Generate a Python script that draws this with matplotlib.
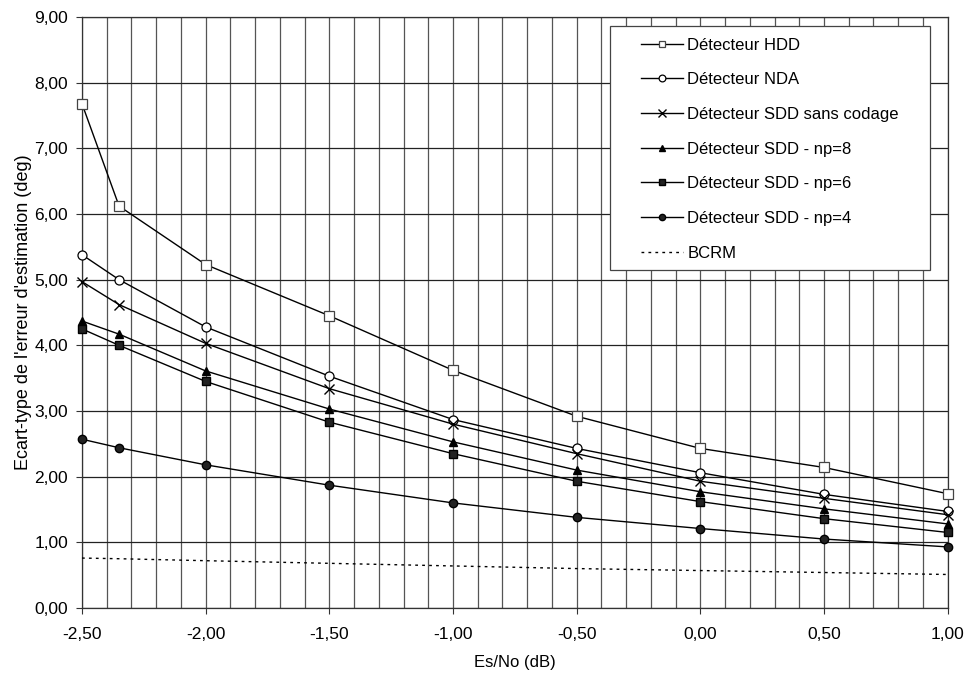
import matplotlib
matplotlib.use("Agg")
import matplotlib.pyplot as plt
from matplotlib.ticker import MultipleLocator, FuncFormatter
from matplotlib.patches import Rectangle

plt.rcParams['font.family'] = ['Liberation Sans', 'DejaVu Sans']

x = [-2.5, -2.35, -2.0, -1.5, -1.0, -0.5, 0.0, 0.5, 1.0]
hdd = [7.68, 6.12, 5.23, 4.45, 3.62, 2.92, 2.43, 2.14, 1.74]
nda = [5.38, 5.00, 4.28, 3.53, 2.87, 2.43, 2.06, 1.73, 1.47]
sdd_nc = [4.97, 4.62, 4.03, 3.34, 2.80, 2.35, 1.93, 1.67, 1.42]
sdd8 = [4.37, 4.17, 3.61, 3.03, 2.53, 2.10, 1.77, 1.51, 1.28]
sdd6 = [4.25, 4.00, 3.45, 2.83, 2.35, 1.93, 1.62, 1.36, 1.15]
sdd4 = [2.57, 2.44, 2.18, 1.87, 1.60, 1.38, 1.21, 1.05, 0.93]
bcrm = [0.76, 0.75, 0.72, 0.68, 0.64, 0.60, 0.57, 0.54, 0.51]

labels = ["Détecteur HDD", "Détecteur NDA", "Détecteur SDD sans codage",
          "Détecteur SDD - np=8", "Détecteur SDD - np=6", "Détecteur SDD - np=4", "BCRM"]

fig = plt.figure(figsize=(9.69, 6.75), dpi=100)
ax = fig.add_axes([0.0846, 0.0993, 0.8934, 0.8755])

lw = 1.0
kw = dict(clip_on=False, zorder=3)
ax.plot(x, hdd, color='black', lw=lw, marker='s', ms=6.5, mfc='white', mec='#444', mew=0.9, label=labels[0], **kw)
ax.plot(x, nda, color='black', lw=lw, marker='o', ms=6.5, mfc='white', mec='black', mew=0.9, label=labels[1], **kw)
ax.plot(x, sdd_nc, color='black', lw=lw, marker='x', ms=7, mec='black', mew=1.0, label=labels[2], **kw)
ax.plot(x, sdd8, color='black', lw=lw, marker='^', ms=6, mfc='black', mec='black', label=labels[3], **kw)
ax.plot(x, sdd6, color='black', lw=lw, marker='s', ms=5.5, mfc='#222', mec='black', label=labels[4], **kw)
ax.plot(x, sdd4, color='black', lw=lw, marker='o', ms=6, mfc='#222', mec='black', label=labels[5], **kw)
ax.plot(x, bcrm, color='black', lw=1.0, ls=(0, (2, 3)), label=labels[6], **kw)

ax.set_xlim(-2.5, 1.0)
ax.set_ylim(0, 9)
ax.xaxis.set_major_locator(MultipleLocator(0.5))
ax.xaxis.set_minor_locator(MultipleLocator(0.1))
ax.yaxis.set_major_locator(MultipleLocator(1.0))
fmt = FuncFormatter(lambda v, p: f"{v:.2f}".replace('.', ',').replace('-0,00', '0,00'))
ax.xaxis.set_major_formatter(fmt)
ax.yaxis.set_major_formatter(fmt)

ax.grid(True, which='major', axis='y', color='#222', lw=0.9)
ax.grid(True, which='both', axis='x', color='#555', lw=0.9)
ax.set_axisbelow(True)
ax.tick_params(axis='both', which='major', direction='out', length=4, labelsize=12.5, color='#333')
ax.tick_params(axis='x', which='minor', length=0)
ax.tick_params(axis='x', pad=10)
ax.tick_params(axis='y', pad=6)
for s in ax.spines.values():
    s.set_color('#333')
    s.set_linewidth(0.9)

ax.set_xlabel("Es/No (dB)", fontsize=12, labelpad=9)
ax.set_ylabel("Ecart-type de l'erreur d'estimation (deg)", fontsize=13, labelpad=2)

# legend frame
box = Rectangle((0.6097, 0.572), 0.979 - 0.6097, 0.9848 - 0.572, transform=ax.transAxes,
                facecolor='white', edgecolor='#444', lw=0.9, zorder=4.5, clip_on=False)
ax.add_patch(box)

leg = ax.legend(loc='center left', bbox_to_anchor=(0.6463, 0.7766), fontsize=12, frameon=False,
                handlelength=2.5, labelspacing=1.18, borderpad=0, borderaxespad=0,
                handletextpad=0.25, markerscale=0.75)
leg.set_zorder(5)

fig.savefig("out.png", dpi=100)
